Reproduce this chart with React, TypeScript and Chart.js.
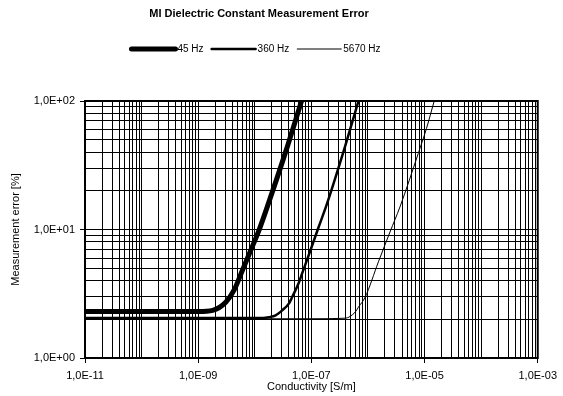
import React, { useEffect, useRef } from 'react';
import { Chart, registerables } from 'chart.js';

Chart.register(...registerables);

const FONT_FAMILY = '"Liberation Sans", Arial, Helvetica, sans-serif';

const chartTitle = 'MI Dielectric Constant Measurement Error';
const xAxisTitle = 'Conductivity [S/m]';
const yAxisTitle = 'Measurement error [%]';
const seriesNames = ['45 Hz', '360 Hz', '5670 Hz'];

const conductivity45 = [1e-11, 1e-10, 1e-9, 1.8e-9, 3.1e-9, 4.3e-9, 6.05e-9, 8.5e-9, 1.19e-8, 1.78e-8, 3.5e-8, 6.7e-8];
const error45 = [2.3, 2.3, 2.3, 2.35, 2.73, 3.37, 4.82, 6.9, 9.9, 16.4, 40, 100];

const conductivity360 = [1e-11, 1e-9, 1.4e-8, 1.78e-8, 2.34e-8, 3.05e-8, 4.0e-8, 4.58e-8, 6.0e-8, 6.87e-8, 9.64e-8, 1.35e-7, 1.89e-7, 3.98e-7, 6.8e-7];
const error360 = [2.05, 2.05, 2.05, 2.08, 2.15, 2.35, 2.65, 2.98, 3.85, 4.55, 6.9, 10.5, 15.9, 45, 100];

const conductivity5670 = [1e-11, 1e-8, 1e-7, 3.97e-7, 5.96e-7, 6.8e-7, 8.93e-7, 1.53e-6, 2.45e-6, 3.68e-6, 7.73e-6, 1.08e-5, 1.48e-5];
const error5670 = [2.02, 2.02, 2.02, 2.04, 2.28, 2.49, 2.98, 5.6, 9.56, 15.0, 39, 61, 100];

const xLabelExponents = [-11, -9, -7, -5, -3];
const yLabelExponents = [0, 1, 2];

function formatSci(exp: number): string {
  return `1,0E${exp < 0 ? '-' : '+'}${String(Math.abs(exp)).padStart(2, '0')}`;
}

function labelExp(v: number, list: number[]): number | null {
  const e = Math.log10(v);
  const r = Math.round(e);
  if (Math.abs(e - r) < 1e-6 && list.includes(r)) return r;
  return null;
}

function logTicks(minExp: number, maxExp: number) {
  const t: { value: number }[] = [];
  for (let e = minExp; e < maxExp; e++) {
    for (let m = 1; m < 10; m++) t.push({ value: m * Math.pow(10, e) });
  }
  t.push({ value: Math.pow(10, maxExp) });
  return t;
}

function pairs(xs: number[], ys: number[]) {
  return xs.map((x, i) => ({ x, y: ys[i] }));
}

const decorPlugin = {
  id: 'decor',
  afterDraw(chart: any) {
    const { ctx, chartArea } = chart;
    ctx.save();
    ctx.strokeStyle = '#000';
    ctx.lineWidth = 2;
    ctx.strokeRect(chartArea.left, chartArea.top, chartArea.right - chartArea.left, chartArea.bottom - chartArea.top);

    ctx.fillStyle = '#000';
    ctx.font = `bold 11px ${FONT_FAMILY}`;
    ctx.textAlign = 'center';
    ctx.textBaseline = 'middle';
    ctx.fillText(chartTitle, 259, 14);

    ctx.font = `10px ${FONT_FAMILY}`;
    const items = chart.data.datasets.map((ds: any) => ({ label: ds.label, w: ds.borderWidth }));
    const lineLen = 44, textGap = 2, itemGap = 8;
    const widths = items.map((it: any) => lineLen + textGap + ctx.measureText(it.label).width);
    const total = widths.reduce((a: number, b: number) => a + b, 0) + itemGap * (items.length - 1);
    let x = 256 - total / 2;
    const y = 49;
    items.forEach((it: any, i: number) => {
      ctx.beginPath();
      ctx.lineWidth = it.w;
      ctx.lineCap = 'round';
      ctx.moveTo(x, y);
      ctx.lineTo(x + lineLen, y);
      ctx.stroke();
      ctx.textAlign = 'left';
      ctx.fillText(it.label, x + lineLen + textGap, y + 0.5);
      x += widths[i] + itemGap;
    });
    ctx.restore();
  },
};

export default function App() {
  const ref = useRef<HTMLCanvasElement | null>(null);

  useEffect(() => {
    if (!ref.current) return;
    Chart.defaults.font.family = FONT_FAMILY;
    Chart.defaults.color = '#000';
    const tickFont = { size: 11, family: FONT_FAMILY };
    const chart = new Chart(ref.current, {
      type: 'line',
      data: {
        datasets: [
          { label: seriesNames[0], data: pairs(conductivity45, error45), borderWidth: 5 },
          { label: seriesNames[1], data: pairs(conductivity360, error360), borderWidth: 2.5 },
          { label: seriesNames[2], data: pairs(conductivity5670, error5670), borderWidth: 1 },
        ].map((d) => ({
          ...d,
          borderColor: '#000',
          backgroundColor: '#000',
          pointRadius: 0,
          fill: false,
          cubicInterpolationMode: 'monotone' as const,
          borderJoinStyle: 'round' as const,
          clip: 0,
        })),
      },
      options: {
        responsive: false,
        animation: false,
        devicePixelRatio: 1,
        layout: { padding: { top: 101, right: 23, bottom: 0, left: 0 } },
        plugins: {
          legend: { display: false },
          title: { display: false },
          tooltip: { enabled: false },
        },
        scales: {
          x: {
            type: 'logarithmic',
            min: 1e-11,
            max: 1e-3,
            afterBuildTicks: (s: any) => { s.ticks = logTicks(-11, -3); },
            afterFit: (s: any) => { s.height = 38; },
            border: { display: false },
            grid: {
              color: '#000',
              lineWidth: 1,
              tickLength: 5,
              tickColor: (c: any) => (c.tick && labelExp(c.tick.value, xLabelExponents) !== null ? '#000' : 'rgba(0,0,0,0)'),
            },
            ticks: {
              autoSkip: false,
              maxRotation: 0,
              minRotation: 0,
              padding: 6,
              font: tickFont,
              color: '#000',
              callback: (v: any) => {
                const e = labelExp(Number(v), xLabelExponents);
                return e === null ? '' : formatSci(e);
              },
            },
            title: { display: true, text: xAxisTitle, font: { size: 11 }, color: '#000', padding: { top: 0, bottom: 2 } },
          },
          y: {
            type: 'logarithmic',
            min: 1,
            max: 100,
            afterBuildTicks: (s: any) => { s.ticks = logTicks(0, 2); },
            afterFit: (s: any) => { s.width = 85; },
            border: { display: false },
            grid: {
              color: '#000',
              lineWidth: 1,
              tickLength: 5,
              tickColor: (c: any) => (c.tick && labelExp(c.tick.value, yLabelExponents) !== null ? '#000' : 'rgba(0,0,0,0)'),
            },
            ticks: {
              autoSkip: false,
              padding: 5,
              font: tickFont,
              color: '#000',
              callback: (v: any) => {
                const e = labelExp(Number(v), yLabelExponents);
                return e === null ? '' : formatSci(e);
              },
            },
            title: { display: true, text: yAxisTitle, font: { size: 11 }, color: '#000', padding: { top: 9, bottom: 0 } },
          },
        },
      },
      plugins: [decorPlugin],
    } as any);
    return () => chart.destroy();
  }, []);

  return (
    <div style={{ position: 'fixed', left: 0, top: 0, width: 563, height: 396, background: '#fff' }}>
      <canvas ref={ref} width={563} height={396} style={{ display: 'block', width: 563, height: 396 }} />
    </div>
  );
}
